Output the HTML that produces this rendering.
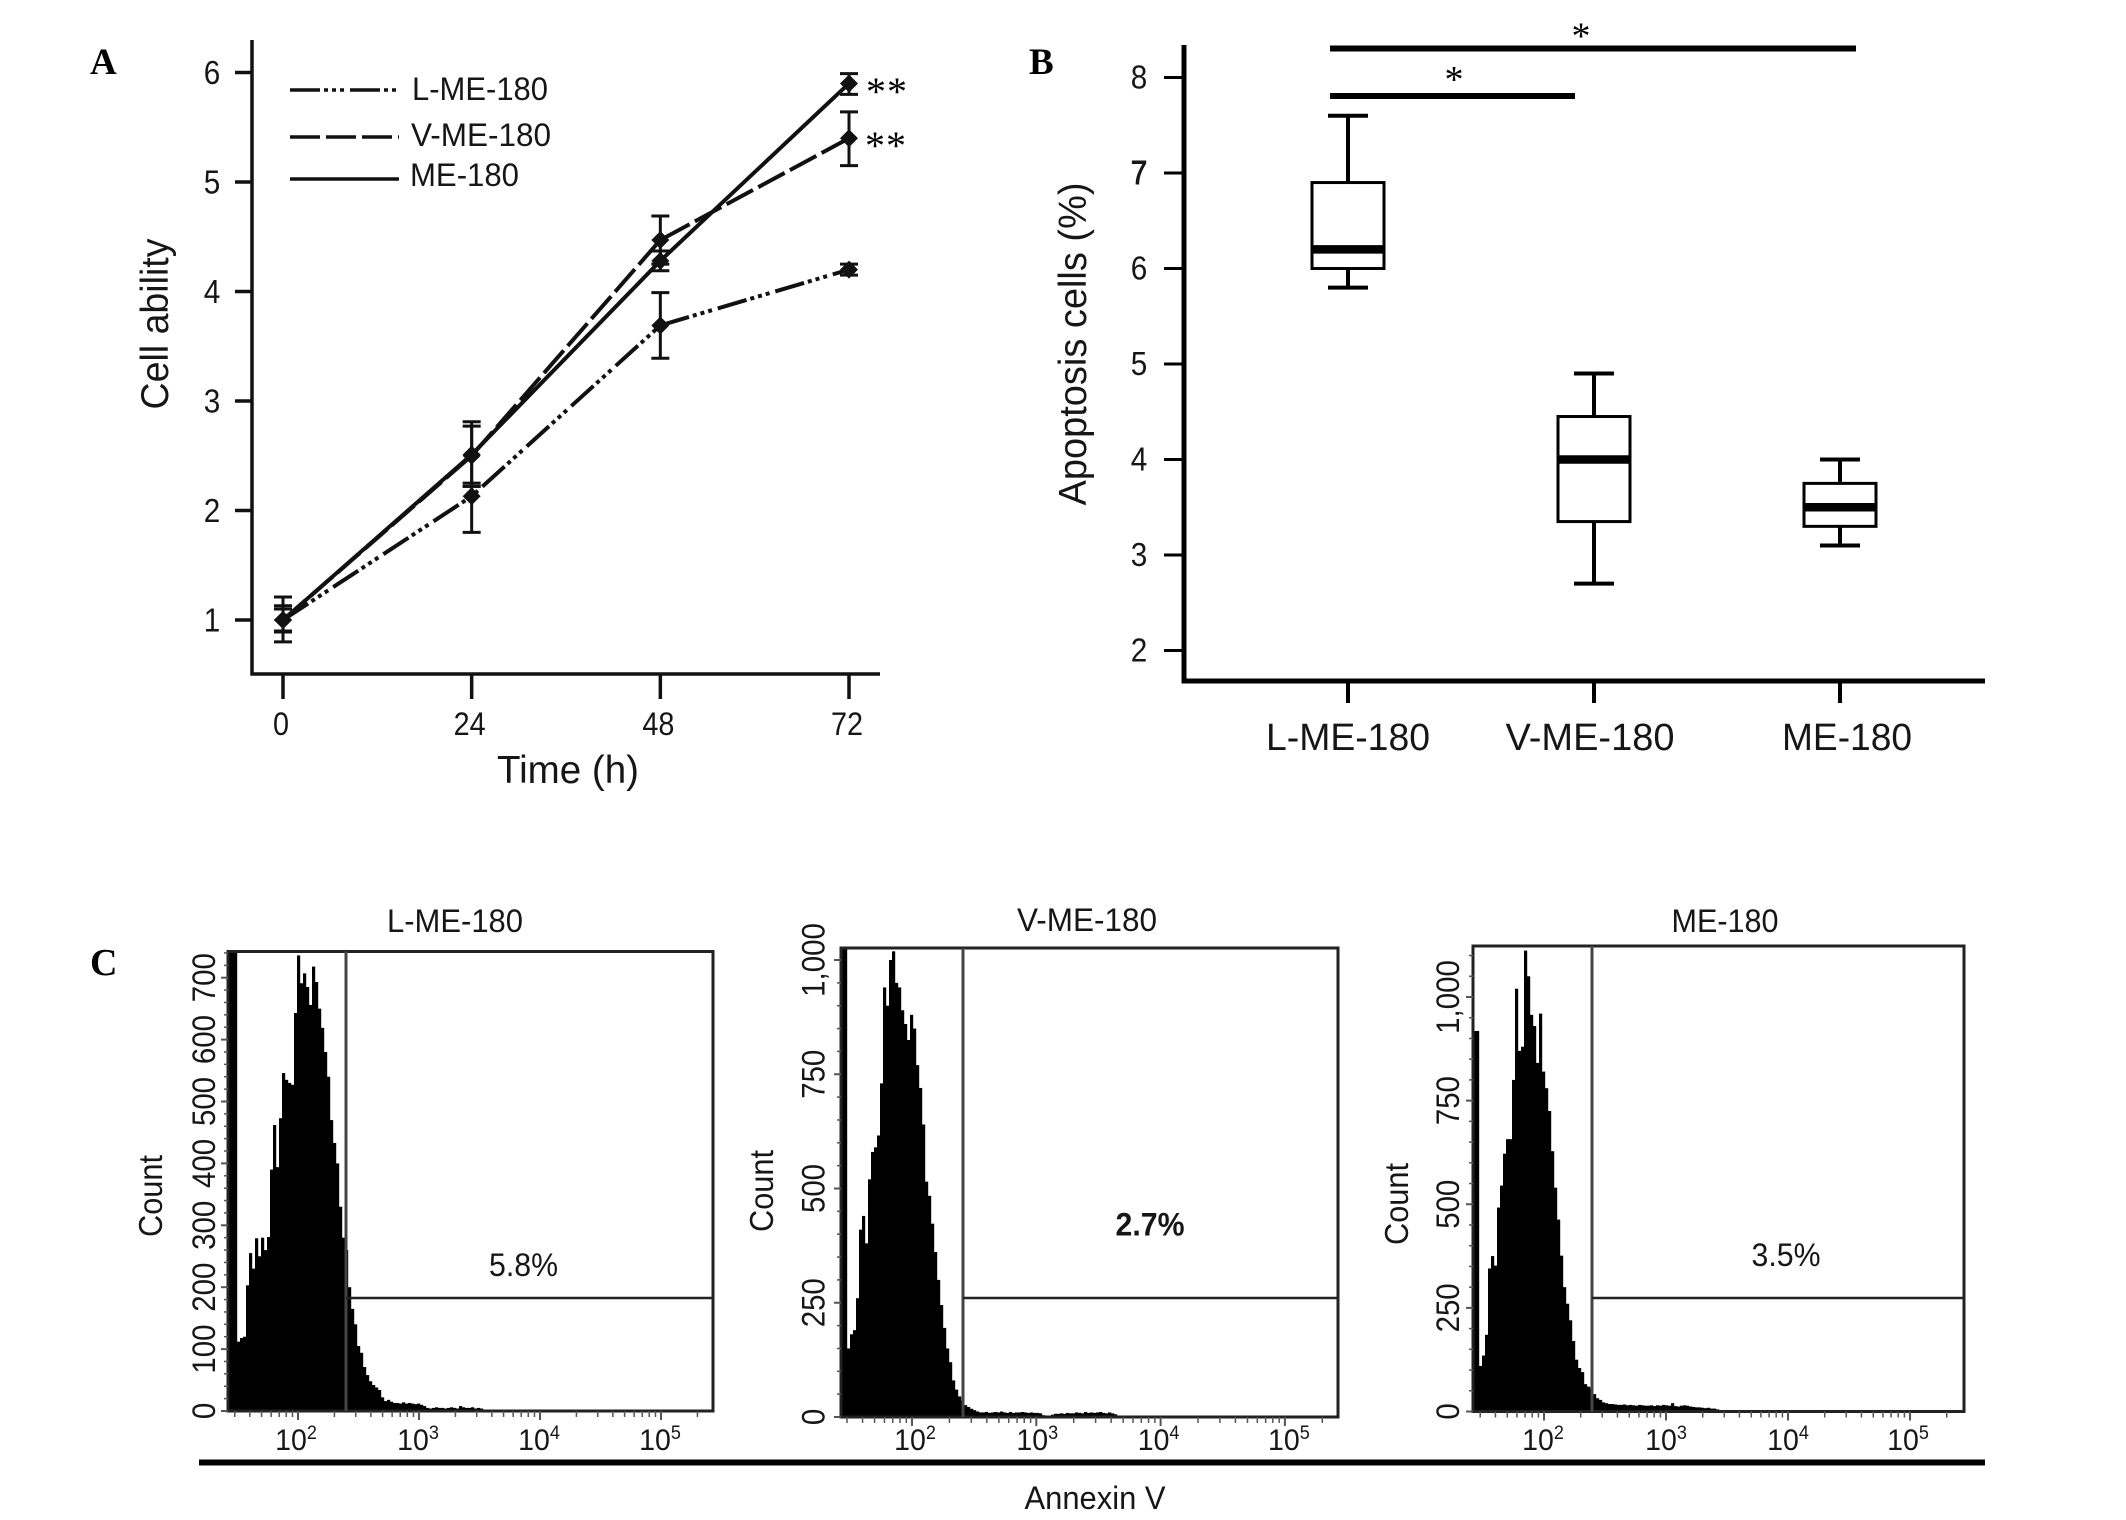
<!DOCTYPE html>
<html lang="en">
<head>
<meta charset="utf-8">
<title>Cell ability, apoptosis and Annexin V flow cytometry</title>
<style>
html,body{margin:0;padding:0;background:#fff;}
svg{display:block;}
text{font-family:"Liberation Sans",sans-serif;fill:#161616;}
.serif{font-family:"Liberation Serif",serif;font-weight:bold;fill:#000;}
</style>
</head>
<body>
<svg id="fig" xmlns="http://www.w3.org/2000/svg" width="2126" height="1520" viewBox="0 0 2126 1520">
  <rect x="0" y="0" width="2126" height="1520" fill="#fff"/>
  <text class="serif" x="90" y="74" font-size="37">A</text>
  <text class="serif" x="1029" y="74" font-size="37">B</text>
  <text class="serif" x="90" y="975" font-size="38">C</text>

  <text x="568" y="783" font-size="39" text-anchor="middle" textLength="142" lengthAdjust="spacingAndGlyphs">Time (h)</text>
  <text transform="translate(168,324) rotate(-90)" font-size="39" text-anchor="middle" textLength="171" lengthAdjust="spacingAndGlyphs">Cell ability</text>
  <text transform="translate(1086,344) rotate(-90)" font-size="39" text-anchor="middle" textLength="323" lengthAdjust="spacingAndGlyphs">Apoptosis cells (%)</text>

  <text x="412" y="100" font-size="32" textLength="136" lengthAdjust="spacingAndGlyphs">L-ME-180</text>
  <text x="411" y="146" font-size="32" textLength="140" lengthAdjust="spacingAndGlyphs">V-ME-180</text>
  <text x="410" y="186" font-size="32" textLength="109" lengthAdjust="spacingAndGlyphs">ME-180</text>

  <text class="serif" style="font-weight:normal" x="866" y="105" font-size="40" letter-spacing="1">**</text>
  <text class="serif" style="font-weight:normal" x="865" y="159" font-size="40" letter-spacing="1">**</text>
  <text class="serif" style="font-weight:normal" x="1581" y="48.5" font-size="38" text-anchor="middle">*</text>
  <text class="serif" style="font-weight:normal" x="1454" y="92" font-size="38" text-anchor="middle">*</text>
  <rect x="1330" y="45.5" width="526" height="6" fill="#000"/>
  <rect x="1330" y="93" width="245" height="6" fill="#000"/>

  <text x="1348" y="750" font-size="38" text-anchor="middle" textLength="164" lengthAdjust="spacingAndGlyphs">L-ME-180</text>
  <text x="1590" y="750" font-size="38" text-anchor="middle" textLength="169" lengthAdjust="spacingAndGlyphs">V-ME-180</text>
  <text x="1847" y="750" font-size="38" text-anchor="middle" textLength="130" lengthAdjust="spacingAndGlyphs">ME-180</text>

  <text x="455" y="932" font-size="32" text-anchor="middle" textLength="136" lengthAdjust="spacingAndGlyphs">L-ME-180</text>
  <text x="1087" y="931" font-size="32" text-anchor="middle" textLength="140" lengthAdjust="spacingAndGlyphs">V-ME-180</text>
  <text x="1725" y="932" font-size="32" text-anchor="middle" textLength="107" lengthAdjust="spacingAndGlyphs">ME-180</text>

  <text transform="translate(162,1196) rotate(-90)" font-size="33" text-anchor="middle" textLength="82" lengthAdjust="spacingAndGlyphs">Count</text>
  <text transform="translate(773,1191) rotate(-90)" font-size="33" text-anchor="middle" textLength="82" lengthAdjust="spacingAndGlyphs">Count</text>
  <text transform="translate(1408,1204) rotate(-90)" font-size="33" text-anchor="middle" textLength="82" lengthAdjust="spacingAndGlyphs">Count</text>

  <text x="523.5" y="1276" font-size="32" text-anchor="middle" textLength="69" lengthAdjust="spacingAndGlyphs">5.8%</text>
  <text x="1150" y="1235.5" font-size="32" font-weight="bold" text-anchor="middle" textLength="69" lengthAdjust="spacingAndGlyphs">2.7%</text>
  <text x="1786" y="1266" font-size="32" text-anchor="middle" textLength="69" lengthAdjust="spacingAndGlyphs">3.5%</text>

  <rect x="199" y="1459.5" width="1786" height="6" fill="#000"/>
  <text x="1095" y="1509" font-size="32" text-anchor="middle" textLength="141" lengthAdjust="spacingAndGlyphs">Annexin V</text>
</svg>

<script>
/* ---------- Panel A values ---------- */
const timePoints = [0, 24, 48, 72];
const cellTicks = [1, 2, 3, 4, 5, 6];
const lMean = [1.0, 2.13, 3.69, 4.2];
const lUpper = [1.21, 2.25, 3.99, 4.25];
const lLower = [0.8, 1.8, 3.39, 4.15];
const vMean = [1.0, 2.5, 4.47, 5.4];
const vUpper = [1.13, 2.81, 4.69, 5.64];
const vLower = [0.89, 2.22, 4.25, 5.15];
const mMean = [1.0, 2.51, 4.28, 5.9];
const mUpper = [1.1, 2.77, 4.37, 5.99];
const mLower = [0.9, 2.22, 4.19, 5.8];

/* ---------- Panel B values ---------- */
const boxGroups = ["L-ME-180", "V-ME-180", "ME-180"];
const apoptosisTicks = [2, 3, 4, 5, 6, 7, 8];
const boxLow = [5.8, 2.7, 3.1];
const boxQ1 = [6.0, 3.35, 3.3];
const boxMedian = [6.2, 4.0, 3.5];
const boxQ3 = [6.9, 4.45, 3.75];
const boxHigh = [7.6, 4.9, 4.0];

/* ---------- Panel C values (event counts per histogram channel) ---------- */
const histL = [760,760,760,112,118,120,203,255,230,279,250,280,260,281,390,462,394,473,546,535,530,527,643,736,691,707,685,656,718,693,650,619,580,540,470,433,400,330,280,260,200,165,140,105,94,71,58,48,42,38,34,22,16,18,15,13,13,12,14,12,13,12,11,12,10,8,5,4,5,6,5,5,4,5,6,5,4,8,6,5,5,6,4,5,4,2,1,1];
const histV = [1030,1030,150,181,190,260,410,440,380,520,580,590,616,730,940,900,1000,1019,950,940,890,860,825,880,850,770,720,640,515,484,423,361,300,245,195,150,120,80,60,45,36,26,22,18,15,12,10,10,11,9,10,11,10,12,10,9,11,9,10,10,11,10,9,10,9,9,8,4,3,3,5,7,7,8,7,9,8,8,10,9,8,11,9,10,9,10,11,9,8,10,8,6,3,1,1];
const histM = [918,918,110,135,185,345,375,352,492,545,622,657,657,800,1020,870,880,1112,1050,957,930,841,960,820,780,725,628,540,463,376,300,260,220,170,125,105,95,66,60,56,42,32,28,22,20,18,18,17,16,16,17,15,16,15,14,16,15,14,14,15,13,15,14,16,15,14,20,13,12,14,15,14,12,11,10,10,9,8,9,7,7,5,3,2,1,1];
const yTicksL = [0, 100, 200, 300, 400, 500, 600, 700];
const yTicksV = [0, 250, 500, 750, 1000];
const yTicksM = [0, 250, 500, 750, 1000];
const yTickTextL = ["0", "100", "200", "300", "400", "500", "600", "700"];
const yTickTextV = ["0", "250", "500", "750", "1,000"];
const yTickTextM = ["0", "250", "500", "750", "1,000"];
const decadeExponents = [2, 3, 4, 5];

const svg = document.getElementById('fig');
const NS = 'http://www.w3.org/2000/svg';
function make(tag, attrs) {
  const e = document.createElementNS(NS, tag);
  for (const k in attrs) e.setAttribute(k, attrs[k]);
  svg.appendChild(e);
  return e;
}

/* ---------- Panel A ---------- */
const xA = t => 283 + t * (849 - 283) / 72;
const yA = v => 620 - (v - 1) * 109.5;

let axisA = make('path', {d: 'M252 40V674H880', fill: 'none', stroke: '#111', 'stroke-width': 3.5});



timePoints.forEach(t => {
  const tick = make('line', {x1: xA(t), x2: xA(t), y1: 674, y2: 699, stroke: '#111', 'stroke-width': 3.5});
  
  
  const label = make('text', {transform: `translate(${xA(t) - 2},735) scale(0.9,1)`, 'font-size': 32, 'text-anchor': 'middle'});
  label.textContent = t;
  
  
});
cellTicks.forEach(v => {
  const tick = make('line', {x1: 235, x2: 252, y1: yA(v), y2: yA(v), stroke: '#111', 'stroke-width': 3.5});
  
  
  const label = make('text', {transform: `translate(212,${yA(v) + 11.5}) scale(0.9,1)`, 'font-size': 33, 'text-anchor': 'middle'});
  label.textContent = v;
  
  
});

const dotDash = '30 4 4 4 4 4 4 6';
const longDash = '30 6';
const lineSeries = [
  {key: 'l-me-180', mean: lMean, up: lUpper, low: lLower, dash: dotDash, legendY: 90},
  {key: 'v-me-180', mean: vMean, up: vUpper, low: vLower, dash: longDash, legendY: 137},
  {key: 'me-180', mean: mMean, up: mUpper, low: mLower, dash: 'none', legendY: 179}
];
lineSeries.forEach(s => {
  const legendLine = make('line', {x1: 290, x2: 399, y1: s.legendY, y2: s.legendY, stroke: '#111', 'stroke-width': 3.5, 'stroke-dasharray': s.dash});
  
  

  const pts = timePoints.map((t, i) => xA(t) + ',' + yA(s.mean[i])).join(' ');
  const line = make('polyline', {points: pts, fill: 'none', stroke: '#111', 'stroke-width': 4, 'stroke-dasharray': s.dash});
  
  

  timePoints.forEach((t, i) => {
    const x = xA(t), u = yA(s.up[i]), d = yA(s.low[i]), m = yA(s.mean[i]);
    const err = make('path', {d: `M${x} ${u}V${d}M${x - 9} ${u}H${x + 9}M${x - 9} ${d}H${x + 9}`, fill: 'none', stroke: '#111', 'stroke-width': 3});
    
    
    const diamond = make('polygon', {points: `${x},${m - 9} ${x + 9},${m} ${x},${m + 9} ${x - 9},${m}`, fill: '#111'});
    
    
  });
});

/* ---------- Panel B ---------- */
const xB = i => 1348 + i * 246;
const yB = v => 650.5 - (v - 2) * 95.5;

let axisB = make('path', {d: 'M1184 45V681H1985', fill: 'none', stroke: '#000', 'stroke-width': 5});



apoptosisTicks.forEach(v => {
  const tick = make('line', {x1: 1164, x2: 1184, y1: yB(v), y2: yB(v), stroke: '#000', 'stroke-width': 3});
  
  
  const label = make('text', {transform: `translate(1139,${yB(v) + 11}) scale(0.9,1)`, 'font-size': 33, 'text-anchor': 'middle'});
  if (v === 7) label.setAttribute('style', 'stroke:#161616;stroke-width:0.9px');
  label.textContent = v;
  
  
});
boxGroups.forEach((g, i) => {
  const x = xB(i);
  const tick = make('line', {x1: x, x2: x, y1: 681, y2: 703, stroke: '#000', 'stroke-width': 4});
  
  

  const whisker = make('path', {d: `M${x} ${yB(boxHigh[i])}V${yB(boxQ3[i])}M${x} ${yB(boxQ1[i])}V${yB(boxLow[i])}M${x - 20} ${yB(boxHigh[i])}H${x + 20}M${x - 20} ${yB(boxLow[i])}H${x + 20}`, fill: 'none', stroke: '#000', 'stroke-width': 4});
  
  

  const box = make('rect', {x: x - 36, y: yB(boxQ3[i]), width: 72, height: yB(boxQ1[i]) - yB(boxQ3[i]), fill: '#fff', stroke: '#000', 'stroke-width': 3});
  
  

  const median = make('line', {x1: x - 36, x2: x + 36, y1: yB(boxMedian[i]), y2: yB(boxMedian[i]), stroke: '#000', 'stroke-width': 8.5});
  
  
});

/* ---------- Panel C ---------- */
const flowPanels = [
  {key: 'l-me-180', hist: histL, ticks: yTicksL, text: yTickTextL, minorStep: 20, maxMinor: 740, labelShift: [-2, -1, -1, -1],
   left: 228, right: 713, top: 951.5, bottom: 1411, gateX: 346, gateY: 1298, x100: 298, decade: 121, y0: 1411, perCount: 0.619, labelX: 215},
  {key: 'v-me-180', hist: histV, ticks: yTicksV, text: yTickTextV, minorStep: 50, maxMinor: 1000, labelShift: [3, 1, -2, 4],
   left: 841, right: 1338, top: 948, bottom: 1417, gateX: 963, gateY: 1298, x100: 912, decade: 124.3, y0: 1417, perCount: 0.457, labelX: 824.5},
  {key: 'me-180', hist: histM, ticks: yTicksM, text: yTickTextM, minorStep: 50, maxMinor: 1100, labelShift: [-1, 0, 0, -2],
   left: 1473, right: 1964, top: 946, bottom: 1411.5, gateX: 1592, gateY: 1298, x100: 1544, decade: 122, y0: 1411.5, perCount: 0.4145, labelX: 1459}
];
const logX = (p, value) => p.x100 + (Math.log10(value) - 2) * p.decade;
const countY = (p, c) => p.y0 - c * p.perCount;
const channelX = (p, i) => p.left + i * 3;

flowPanels.forEach(p => {
  const clip = make('clipPath', {id: 'clip-' + p.key});
  const clipRect = document.createElementNS(NS, 'rect');
  clipRect.setAttribute('x', p.left);
  clipRect.setAttribute('y', p.top);
  clipRect.setAttribute('width', p.right - p.left);
  clipRect.setAttribute('height', p.bottom - p.top);
  clip.appendChild(clipRect);

  p.hist.forEach((c, i) => {
    const bar = make('rect', {x: channelX(p, i), y: countY(p, c), width: 3.2, height: p.y0 - countY(p, c), fill: '#000', 'clip-path': `url(#clip-${p.key})`});
    
    
  });

  const frame = make('rect', {x: p.left, y: p.top, width: p.right - p.left, height: p.bottom - p.top, fill: 'none', stroke: '#222', 'stroke-width': 3});
  
  

  const gateV = make('line', {x1: p.gateX, x2: p.gateX, y1: p.top, y2: p.bottom, stroke: '#444', 'stroke-width': 3});
  
  
  const gateH = make('line', {x1: p.gateX, x2: p.right, y1: p.gateY, y2: p.gateY, stroke: '#222', 'stroke-width': 2.6});
  
  

  /* y ticks */
  for (let c = 0; c <= p.maxMinor; c += p.minorStep) {
    const major = p.ticks.includes(c);
    const tick = make('line', {x1: p.left - (major ? 7 : 4), x2: p.left, y1: countY(p, c), y2: countY(p, c), stroke: '#555', 'stroke-width': major ? 2 : 1.5});
    
    
  }
  p.ticks.forEach((c, i) => {
    const label = make('text', {transform: `translate(${p.labelX},${countY(p, c)}) rotate(-90) scale(0.92,1)`, 'font-size': 32, 'text-anchor': 'middle'});
    label.textContent = p.text[i];
    
    
  });

  /* log x ticks */
  [1, 2, 3, 4].forEach(d => {
    for (let k = 1; k <= 9; k++) {
      if (d === 1 && k < 3) continue;
      const value = k * Math.pow(10, d);
      const x = logX(p, value);
      const tick = make('line', {x1: x, x2: x, y1: p.bottom, y2: p.bottom + (k === 1 ? 9 : 6), stroke: '#555', 'stroke-width': k === 1 ? 2 : 1.5});
      
      
    }
  });
  const lastTick = make('line', {x1: logX(p, 100000), x2: logX(p, 100000), y1: p.bottom, y2: p.bottom + 9, stroke: '#555', 'stroke-width': 2});
  
  
  const endTick = make('line', {x1: logX(p, 200000), x2: logX(p, 200000), y1: p.bottom, y2: p.bottom + 6, stroke: '#555', 'stroke-width': 1.5});
  
  

  decadeExponents.forEach((exp, i) => {
    const label = make('text', {transform: `translate(${logX(p, Math.pow(10, exp)) + p.labelShift[i]},1450) scale(0.95,1)`, 'font-size': 30, 'text-anchor': 'middle'});
    
    
    label.appendChild(document.createTextNode('10'));
    const sup = document.createElementNS(NS, 'tspan');
    sup.setAttribute('font-size', 19);
    sup.setAttribute('dy', -11);
    sup.textContent = exp;
    label.appendChild(sup);
  });
});
</script>
</body>
</html>
